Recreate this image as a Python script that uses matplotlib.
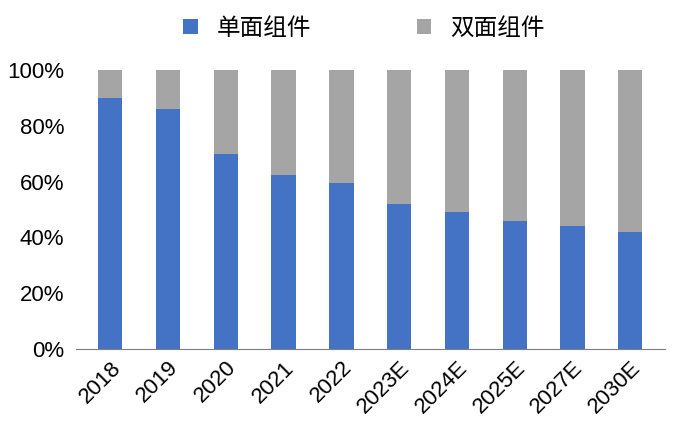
import matplotlib
matplotlib.use("Agg")
import matplotlib.pyplot as plt
from matplotlib.ticker import PercentFormatter

plt.rcParams['font.family'] = ['Noto Sans CJK SC', 'DejaVu Sans']

years = ["2018", "2019", "2020", "2021", "2022", "2023E", "2024E", "2025E", "2027E", "2030E"]
mono = [90, 86, 70, 62.5, 59.5, 52, 49, 46, 44, 42]
bifacial = [100 - v for v in mono]

fig = plt.figure(figsize=(6.87, 4.41), dpi=100)
ax = fig.add_axes([0.11, 0.209, 0.858, 0.632])

x = range(len(years))
ax.bar(x, mono, width=0.42, color="#4472C4", label="单面组件")
ax.bar(x, bifacial, width=0.42, bottom=mono, color="#A5A5A5", label="双面组件")

ax.set_ylim(0, 100)
ax.set_xlim(-0.6, len(years) - 0.4)
ax.set_yticks(range(0, 101, 20))
ax.yaxis.set_major_formatter(PercentFormatter(decimals=0))
ax.set_xticks(list(x))
ax.set_xticklabels(years, rotation=45, ha="right", rotation_mode="anchor", fontsize=16,
                   family="Liberation Sans")
for lbl in ax.get_yticklabels():
    lbl.set_fontsize(16)
    lbl.set_family("Liberation Sans")
ax.tick_params(axis="x", length=0, pad=6)
ax.tick_params(axis="y", length=0, pad=8)
for s in ["top", "right", "left"]:
    ax.spines[s].set_visible(False)
ax.spines["bottom"].set_color("#7f7f7f")

fig.legend(loc="upper center", bbox_to_anchor=(0.53, 1.01), ncol=2, frameon=False,
           fontsize=17, handlelength=0.6, handleheight=0.6, columnspacing=4.5)

fig.savefig("out.png", dpi=100)
